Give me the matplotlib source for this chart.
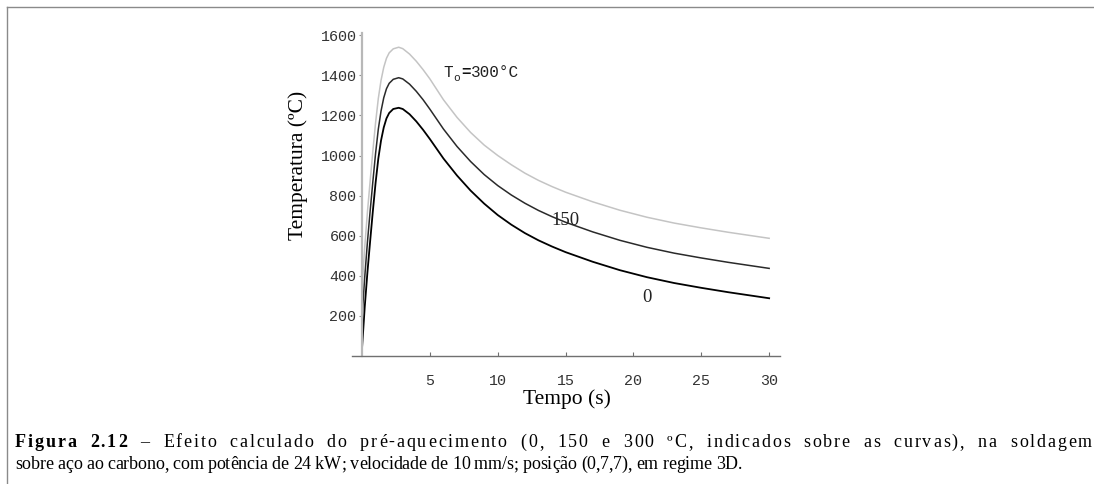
import numpy as np
import matplotlib
matplotlib.use("Agg")
import matplotlib.pyplot as plt
from matplotlib.lines import Line2D
from matplotlib.transforms import offset_copy

# ── data ──────────────────────────────────────────────────────────────────────
tempo = [0, 0.2, 0.4, 0.6, 0.8, 1.0, 1.2, 1.4, 1.6, 1.8, 2.0, 2.3, 2.7, 3.0,
         3.5, 4.0, 4.5, 5.0, 6, 7, 8, 9, 10, 11, 12, 13, 14, 15, 17, 19, 21,
         23, 25, 27, 30]

temp_0 = [40, 246, 420, 575, 725, 865, 985, 1075, 1140, 1185, 1212, 1232,
          1238, 1232, 1206, 1170, 1128, 1082, 985, 900, 825, 760, 703, 655,
          613, 577, 546, 518, 470, 428, 393, 364, 340, 318, 288]

temp_150 = [195, 395, 570, 725, 872, 1012, 1132, 1222, 1288, 1333, 1360, 1380,
            1388, 1382, 1356, 1320, 1278, 1231, 1132, 1045, 970, 905, 850, 803,
            762, 726, 695, 667, 619, 577, 542, 513, 489, 467, 437]

temp_300 = [345, 545, 720, 875, 1025, 1165, 1285, 1375, 1440, 1485, 1512, 1532,
            1540, 1533, 1506, 1470, 1428, 1382, 1278, 1190, 1115, 1052, 1000,
            954, 912, 876, 845, 817, 769, 727, 692, 663, 639, 617, 587]

x_ticks = [5, 10, 15, 20, 25, 30]
y_ticks = [200, 400, 600, 800, 1000, 1200, 1400, 1600]

fig_num = "Figura 2.12"
legenda = (" – Efeito calculado do pré-aquecimento (0, 150 e 300 ºC, indicados "
           "sobre as curvas), na soldagem")
legenda2 = ("sobre aço ao carbono, com potência de 24 kW; velocidade de "
            "10 mm/s; posição (0,7,7), em regime 3D.")

W, H = 1094, 484
mono = "Liberation Mono"
serif = "Liberation Serif"

fig = plt.figure(figsize=(W / 100, H / 100), dpi=100)
ax = fig.add_axes([352 / W, 128 / H, 428 / W, 323 / H])

# ---- curves ------------------------------------------------------------------
ax.plot(tempo, temp_300, color="#c4c4c4", lw=1.1)
ax.plot(tempo, temp_150, color="#2a2a2a", lw=1.1)
ax.plot(tempo, temp_0,   color="#000000", lw=1.3)

ax.set_xlim(-0.74, 30.8)
ax.set_ylim(0, 1611)

# ---- axes in Mathematica style ----------------------------------------------
for s in ["top", "right"]:
    ax.spines[s].set_visible(False)
ax.spines["left"].set_position(("data", 0))
ax.spines["left"].set_color("#b8b8b8")
ax.spines["left"].set_linewidth(1.6)
ax.spines["bottom"].set_color("#707070")
ax.spines["bottom"].set_linewidth(1.0)

ax.set_xticks(x_ticks)
ax.set_yticks(y_ticks)
ax.tick_params(axis="x", direction="in", length=3, width=0.8,
               color="#707070", pad=13, labelsize=10.8, labelcolor="#333333")
ax.tick_params(axis="y", direction="out", length=2.5, width=0.8,
               color="#909090", pad=1.5, labelsize=10.8, labelcolor="#333333")
for lab in ax.get_xticklabels() + ax.get_yticklabels():
    lab.set_fontfamily(mono)

# axis titles
fig.text(567 / W, 1 - 399 / H, "Tempo (s)", family=serif, fontsize=15.5,
         ha="center", va="center")
fig.text(298 / W, 1 - 165 / H, "Temperatura (ºC)", family=serif,
         fontsize=15.5, ha="center", va="center", rotation=90)

# ---- curve labels -------------------------------------------------------------
ax.text(14.96, 678, "150", family=serif, fontsize=13.5, ha="center",
        va="center", color="#222222")
ax.text(21.0, 294, "0", family=serif, fontsize=13.5, ha="center",
        va="center", color="#222222")

ax.text(5.97, 1414, "T", family=mono, fontsize=11.5, ha="left",
        va="center", color="#222222")
ax.text(5.97, 1414, "o", family=mono, fontsize=8, ha="left", va="center",
        color="#222222",
        transform=offset_copy(ax.transData, fig=fig, x=7, y=-4, units="points"))
ax.text(5.97, 1414, "=", family=mono, fontsize=11.5, fontweight="bold",
        ha="left", va="center", color="#111111",
        transform=offset_copy(ax.transData, fig=fig, x=13, y=0, units="points"))
ax.text(5.97, 1414, "300°C", family=mono, fontsize=11.5, ha="left",
        va="center", color="#222222",
        transform=offset_copy(ax.transData, fig=fig, x=20, y=0, units="points"))

# ---- frame lines --------------------------------------------------------------
fig.add_artist(Line2D([7 / W, 7 / W], [0, 1 - 7 / H], transform=fig.transFigure,
                      color="#8a8a8a", lw=1.0))
fig.add_artist(Line2D([7 / W, 1], [1 - 7 / H, 1 - 7 / H],
                      transform=fig.transFigure, color="#8a8a8a", lw=1.0))

# ---- caption: justified lines -------------------------------------------------
r = fig.canvas.get_renderer()
cap_size = 13
x_left = 15
tmp = []


def advance(c, weight):
    """pixel advance of one character (measured between two x's)"""
    a = fig.text(0, 0, "x" + c + "x", family=serif, fontsize=cap_size,
                 fontweight=weight)
    b = fig.text(0, 0, "xx", family=serif, fontsize=cap_size,
                 fontweight=weight)
    tmp.extend([a, b])
    return a.get_window_extent(r).width - b.get_window_extent(r).width


def spaced_line(chars, y, x_right, space_weight=4.0):
    adv = [advance(c, wt) for c, wt in chars]
    last = fig.text(0, 0, chars[-1][0], family=serif, fontsize=cap_size)
    tmp.append(last)
    natural = sum(adv[:-1]) + last.get_window_extent(r).width
    # share of the slack: spaces take more than letters
    wts = [space_weight if c == " " else 1.0 for c, _ in chars[:-1]]
    unit = (x_right - x_left - natural) / sum(wts)
    x = x_left
    for i, ((c, wt), a) in enumerate(zip(chars, adv)):
        if c != " ":
            fig.text(x / W, y, c, family=serif, fontsize=cap_size,
                     fontweight=wt, ha="left", va="baseline")
        if i < len(wts):
            x += a + unit * wts[i]


line1 = [(c, "bold") for c in fig_num] + [(c, "normal") for c in legenda]
line2 = [(c, "normal") for c in legenda2]
spaced_line(line1, 1 - 447 / H, 1092)
spaced_line(line2, 1 - 469 / H, 742, space_weight=1.0)

for t in tmp:
    t.remove()

fig.savefig("out.png", dpi=100)
